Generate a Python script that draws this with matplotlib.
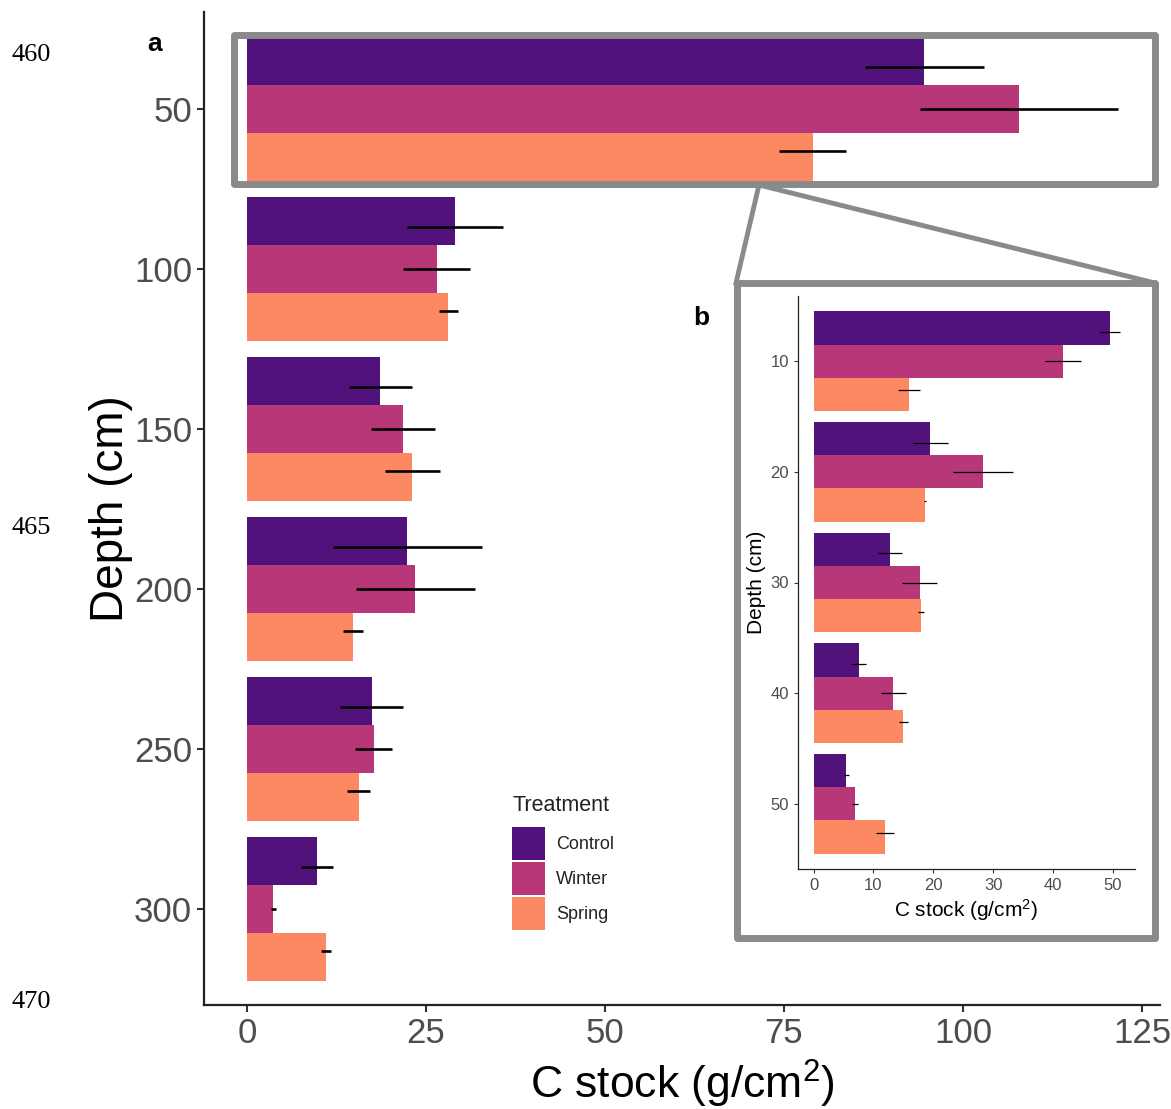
import matplotlib
matplotlib.use("Agg")
import matplotlib.pyplot as plt
from matplotlib.patches import Rectangle, Patch
from matplotlib.lines import Line2D
import numpy as np

plt.rcParams['font.family'] = ['Liberation Sans', 'DejaVu Sans']
plt.rcParams['mathtext.fontset'] = 'custom'
plt.rcParams['mathtext.rm'] = 'Liberation Sans'
plt.rcParams['mathtext.it'] = 'Liberation Sans:italic'
plt.rcParams['mathtext.bf'] = 'Liberation Sans:bold'

# ---- data ----
treatments = ["Control", "Winter", "Spring"]
colors = ["#51127C", "#B73779", "#FC8961"]

# main panel (a): depth 50-300 cm
depth_a = [50, 100, 150, 200, 250, 300]
control_a = [94.6, 29.0, 18.6, 22.4, 17.4, 9.8]
winter_a = [107.8, 26.5, 21.8, 23.5, 17.7, 3.7]
spring_a = [79.0, 28.1, 23.1, 14.8, 15.6, 11.1]
control_a_se = [8.3, 6.7, 4.4, 10.4, 4.4, 2.2]
winter_a_se = [13.8, 4.7, 4.5, 8.3, 2.6, 0.3]
spring_a_se = [4.7, 1.3, 3.8, 1.4, 1.6, 0.7]

# inset panel (b): depth 10-50 cm
depth_b = [10, 20, 30, 40, 50]
control_b = [49.5, 19.5, 12.7, 7.6, 5.5]
winter_b = [41.7, 28.3, 17.7, 13.3, 6.9]
spring_b = [15.9, 18.6, 18.0, 15.0, 11.9]
control_b_se = [1.7, 2.9, 2.0, 1.2, 0.4]
winter_b_se = [3.0, 5.0, 3.0, 2.1, 0.45]
spring_b_se = [1.8, 0.2, 0.5, 0.75, 1.5]

x_ticks_a = [0, 25, 50, 75, 100, 125]
x_ticks_b = [0, 10, 20, 30, 40, 50]
line_numbers = ["460", "465", "470"]

W, H = 1171, 1109
fig = plt.figure(figsize=(W / 100, H / 100), dpi=100)

def fx(px):
    return px / W

def fy(py):
    return 1 - py / H

tick_col = "#4D4D4D"

def draw_group(ax, depths, vals, ses, step, err_lw):
    offs = [-1, 0, 1]
    for i in range(3):
        y = np.array(depths, dtype=float) + offs[i] * step
        ye = np.array(depths, dtype=float) + offs[i] * step * 0.875
        ax.barh(y, vals[i], height=step, color=colors[i], edgecolor='none', zorder=2)
        ax.errorbar(vals[i], ye, xerr=ses[i], fmt='none', ecolor='black',
                    elinewidth=err_lw, capsize=0, zorder=3)

# ---- main axes ----
ax = fig.add_axes([fx(204), fy(1005), fx(1160) - fx(204), fy(12) - fy(1005)])
draw_group(ax, depth_a, [control_a, winter_a, spring_a],
           [control_a_se, winter_a_se, spring_a_se], 15, 1.9)
ax.set_xlim(-6.0, 127.5)
ax.set_ylim(330, 19.7)
ax.set_xticks(x_ticks_a)
ax.set_yticks(depth_a)
ax.tick_params(axis='both', labelsize=25, labelcolor=tick_col, color='#333333',
               length=5, width=1.5)
for s in ['top', 'right']:
    ax.spines[s].set_visible(False)
for s in ['left', 'bottom']:
    ax.spines[s].set_linewidth(1.6)
    ax.spines[s].set_color('#222222')
ax.set_xlabel("C stock (g/cm$^2$)", fontsize=32, labelpad=6)
ax.set_ylabel("Depth (cm)", fontsize=33, labelpad=1)

# legend
handles = [Patch(facecolor=c, edgecolor='none') for c in colors]
leg = fig.legend(handles, treatments, title="Treatment", loc='upper left',
                 bbox_to_anchor=(fx(503), fy(786)), frameon=False, fontsize=13,
                 title_fontsize=15.5, handlelength=1.83, handleheight=2.43,
                 labelspacing=0.11, handletextpad=0.6, borderpad=0,
                 alignment='left')
leg._legend_box.sep = 8
for t in leg.get_texts():
    t.set_color('#222222')
leg.get_title().set_color('#222222')

# ---- zoom rectangle and connectors ----
grey = "#8A8A8A"
fig.add_artist(Rectangle((fx(234), fy(184)), fx(1155) - fx(234), fy(35) - fy(184),
                         transform=fig.transFigure, fill=False, edgecolor=grey,
                         linewidth=5, joinstyle='round', zorder=5))
fig.add_artist(Line2D([fx(759), fx(736)], [fy(185), fy(283)], transform=fig.transFigure,
                      color=grey, linewidth=3.5, zorder=5))
fig.add_artist(Line2D([fx(759), fx(1155)], [fy(185), fy(283)], transform=fig.transFigure,
                      color=grey, linewidth=3.5, zorder=5))
fig.add_artist(Rectangle((fx(737), fy(938)), fx(1155) - fx(737), fy(283) - fy(938),
                         transform=fig.transFigure, facecolor='white', edgecolor=grey,
                         linewidth=5, joinstyle='round', zorder=5))

# ---- inset axes ----
axi = fig.add_axes([fx(798), fy(869), fx(1135) - fx(798), fy(296) - fy(869)], zorder=10)
draw_group(axi, depth_b, [control_b, winter_b, spring_b],
           [control_b_se, winter_b_se, spring_b_se], 3, 0.9)
axi.set_xlim(-2.6, 53.7)
axi.set_ylim(55.9, 4.1)
axi.set_xticks(x_ticks_b)
axi.set_yticks(depth_b)
axi.tick_params(axis='both', labelsize=12, labelcolor=tick_col, color='#333333',
                length=3, width=0.8)
for s in ['top', 'right']:
    axi.spines[s].set_visible(False)
for s in ['left', 'bottom']:
    axi.spines[s].set_linewidth(0.9)
    axi.spines[s].set_color('#222222')
axi.set_xlabel("C stock (g/cm$^2$)", fontsize=15, labelpad=3)
axi.set_ylabel("Depth (cm)", fontsize=15, labelpad=3)

# panel letters
fig.text(fx(155), fy(44), "a", fontsize=19, fontweight='bold', ha='center', va='center')
fig.text(fx(701), fy(318), "b", fontsize=19, fontweight='bold', ha='center', va='center')

# manuscript line numbers
for lab, py in zip(line_numbers, [55, 528, 1002]):
    fig.text(fx(12), fy(py), lab, fontsize=19, family='Liberation Serif',
             ha='left', va='center')

fig.savefig("out.png", dpi=100)
